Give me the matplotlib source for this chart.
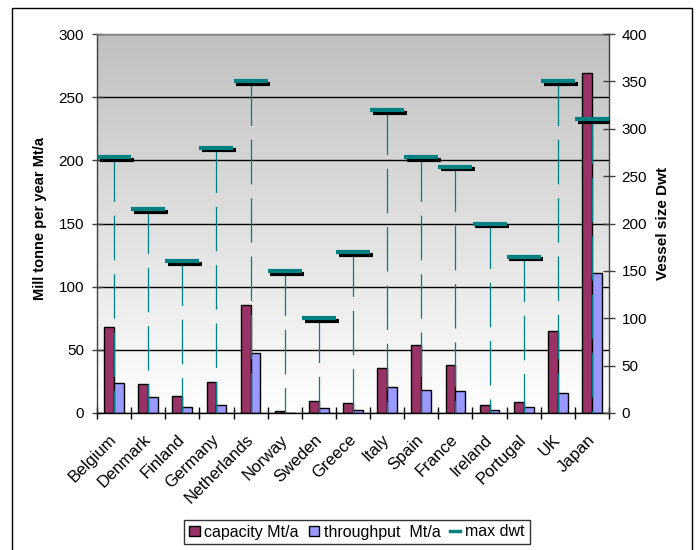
import numpy as np
import matplotlib
matplotlib.use("Agg")
import matplotlib.pyplot as plt
from matplotlib.patches import Rectangle, Patch
from matplotlib.lines import Line2D
from matplotlib.transforms import ScaledTranslation, blended_transform_factory

plt.rcParams['font.family'] = ['Liberation Sans', 'DejaVu Sans']
plt.rcParams['lines.scale_dashes'] = False

countries = ["Belgium", "Denmark", "Finland", "Germany", "Netherlands", "Norway",
             "Sweden", "Greece", "Italy", "Spain", "France", "Ireland",
             "Portugal", "UK", "Japan"]
capacity = [68, 22.6, 13.8, 24.4, 85.8, 1.6, 9.8, 7.7, 35.6, 54.2, 38.3, 6.4, 8.5, 65, 269]
throughput = [23.4, 12.8, 4.8, 6, 47.3, 0, 3.7, 2.6, 20.7, 18.6, 17.5, 2.6, 4.8, 15.6, 110.8]
max_dwt = [270, 215, 160, 280, 350, 150, 100, 170, 320, 270, 260, 200, 165, 350, 310]

left_ticks = [0, 50, 100, 150, 200, 250, 300]
right_ticks = [0, 50, 100, 150, 200, 250, 300, 350, 400]

CAP = "#993366"
THR = "#9999FF"
TEAL = "#008080"

W, H, DPI = 696, 550, 100
fig = plt.figure(figsize=(W / DPI, H / DPI), dpi=DPI)
ax = fig.add_axes([97 / W, (H - 413) / H, 512 / W, 379 / H])

x = np.arange(len(countries))
n = len(countries)

# gradient plot-area background
grad = np.linspace(0, 1, 256).reshape(-1, 1)
top = np.array([192, 192, 192]) / 255
bot = np.array([255, 255, 255]) / 255
img = top + (bot - top) * grad[:, :, None] * np.ones((1, 1, 3))
ax.imshow(img, extent=[-0.5, n - 0.5, 0, 300], aspect='auto', zorder=0,
          origin='upper', interpolation='bilinear')

bw = 0.29
ax.bar(x - bw, capacity, width=bw, align='edge', color=CAP, edgecolor='black',
       linewidth=1.0, zorder=2)
ax.bar(x, throughput, width=bw, align='edge', color=THR, edgecolor='black',
       linewidth=1.0, zorder=2)

ax.set_xlim(-0.5, n - 0.5)
ax.set_ylim(0, 300)
ax.set_yticks(left_ticks)
ax.set_axisbelow(True)
ax.yaxis.grid(True, color='black', linewidth=1.0)

# category boundaries carry the tick marks; names sit at the centres
ax.set_xticks([])
ax.set_xticks(np.arange(-0.5, n, 1.0), minor=True)
ax.tick_params(axis='x', which='minor', direction='inout', length=8, width=1,
               color='black')
ax.tick_params(axis='y', direction='inout', length=7, width=1, labelsize=11,
               pad=5.8, color='#404040')

label_trans = blended_transform_factory(ax.transData, ax.transAxes) + \
    ScaledTranslation(-5 / DPI, -19 / DPI, fig.dpi_scale_trans)
for xi, name in zip(x, countries):
    ax.text(xi, 0, name, rotation=45, ha='right', va='top',
            rotation_mode='anchor', fontsize=12, transform=label_trans)

ax.spines['left'].set_color('#404040')
ax.spines['top'].set_color('#808080')
ax.spines['bottom'].set_color('black')
ax.spines['right'].set_visible(False)
for s in ax.spines.values():
    s.set_linewidth(1.0)

ax2 = ax.twinx()
ax2.set_ylim(0, 400)
ax2.set_yticks(right_ticks)
ax2.tick_params(axis='y', direction='inout', length=8.6, width=1, labelsize=11,
                pad=4.8, color='#404040')
ax2.spines['right'].set_color('#404040')
ax2.spines['right'].set_linewidth(1.0)
for s in ['left', 'top', 'bottom']:
    ax2.spines[s].set_visible(False)

# drop lines from each max dwt marker down to the axis
for xi, v in zip(x, max_dwt):
    ax2.plot([xi, xi], [v, 0], color=TEAL, linewidth=0.9,
             linestyle=(0, (32, 10)), zorder=3)

# shadowed dash markers
shadow = ax2.transData + ScaledTranslation(2.7 / DPI, -2.7 / DPI, fig.dpi_scale_trans)
ax2.plot(x, max_dwt, linestyle='none', marker='_', markersize=23.8,
         markeredgewidth=3.0, color='black', transform=shadow, zorder=4)
ax2.plot(x, max_dwt, linestyle='none', marker='_', markersize=23.8,
         markeredgewidth=3.0, color=TEAL, zorder=5)
ax2.set_xlim(-0.5, n - 0.5)

fig.text(40 / W, 1 - 218.5 / H, "Mill tonne per year Mt/a", rotation=90,
         ha='center', va='center', fontsize=10.5, fontweight='bold')
fig.text(663 / W, 1 - 224 / H, "Vessel size Dwt", rotation=90,
         ha='center', va='center', fontsize=11, fontweight='bold')

handles = [Patch(facecolor=CAP, edgecolor='black', linewidth=1.0),
           Patch(facecolor=THR, edgecolor='black', linewidth=1.0),
           Line2D([], [], color=TEAL, linewidth=2.5)]
labels = ["capacity Mt/a", "throughput  Mt/a", "max dwt"]
leg = fig.legend(handles, labels, loc='center', bbox_to_anchor=(357 / W, 1 - 532 / H),
                 ncol=3, fontsize=11.5, frameon=True, fancybox=False,
                 handlelength=0.65, handleheight=0.65, handletextpad=0.3,
                 columnspacing=0.6, borderpad=0.3)
leg.get_frame().set_edgecolor('black')
leg.get_frame().set_linewidth(1.0)

fig.add_artist(Rectangle((12 / W, -0.05), (691.5 - 12) / W, 1 - 8 / H + 0.05,
                         transform=fig.transFigure, fill=False,
                         edgecolor='black', linewidth=1.0))

fig.savefig("out.png", dpi=DPI)
